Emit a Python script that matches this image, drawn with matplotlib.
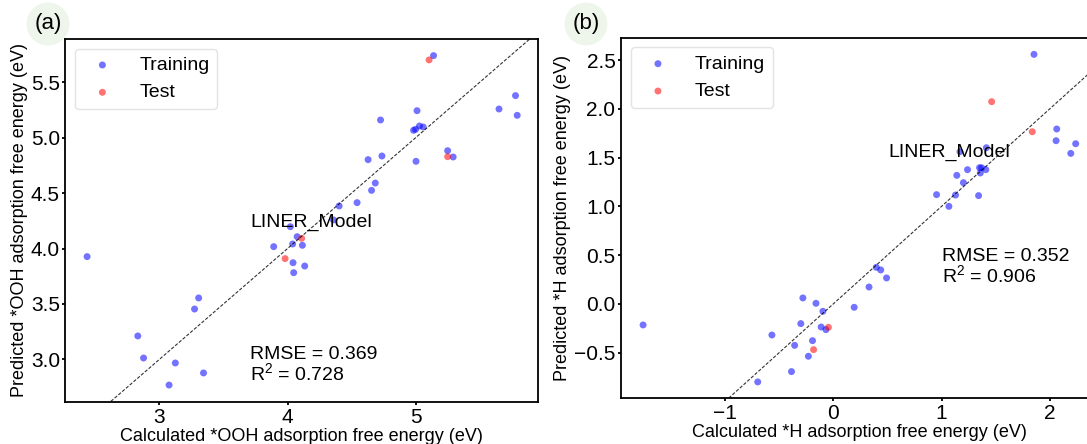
import matplotlib
matplotlib.use("Agg")
import matplotlib.pyplot as plt

plt.rcParams['font.family'] = ['Liberation Sans', 'DejaVu Sans']
plt.rcParams['mathtext.fontset'] = 'custom'
plt.rcParams['mathtext.rm'] = 'Liberation Sans'
plt.rcParams['mathtext.it'] = 'Liberation Sans:italic'

# (a) *OOH
ooh_train_x = [2.435, 2.831, 2.876, 3.124, 3.075, 3.344, 3.274, 3.306, 3.892, 4.022,
               4.040, 4.075, 4.116, 4.043, 4.048, 4.134, 4.403, 4.358, 4.543, 4.656,
               4.685, 4.629, 4.737, 4.726, 5.003, 4.984, 5.000, 5.030, 5.059, 5.011,
               5.140, 5.250, 5.293, 5.651, 5.780, 5.793]
ooh_train_y = [3.927, 3.211, 3.012, 2.967, 2.768, 2.877, 3.454, 3.554, 4.017, 4.197,
               4.041, 4.107, 4.029, 3.872, 3.782, 3.842, 4.384, 4.258, 4.414, 4.525,
               4.591, 4.802, 4.835, 5.160, 4.787, 5.067, 5.076, 5.106, 5.097, 5.244,
               5.741, 4.883, 4.826, 5.259, 5.380, 5.202]
ooh_test_x = [5.105, 5.250, 4.110, 3.981]
ooh_test_y = [5.702, 4.829, 4.092, 3.909]
ooh_rmse, ooh_r2 = 0.369, 0.728

# (b) *H
h_train_x = [-1.757, -0.567, -0.357, -0.386, -0.698, -0.281, -0.300, -0.160, -0.096, -0.112,
             -0.068, -0.192, -0.230, 0.193, 0.330, 0.397, 0.438, 0.492, 0.954, 1.068,
             1.129, 1.141, 1.202, 1.240, 1.342, 1.351, 1.370, 1.358, 1.409, 1.414,
             1.170, 1.854, 2.064, 2.058, 2.194, 2.239]
h_train_y = [-0.216, -0.319, -0.425, -0.694, -0.800, 0.061, -0.202, 0.006, -0.076, -0.237,
             -0.264, -0.377, -0.537, -0.035, 0.173, 0.375, 0.348, 0.266, 1.120, 1.000,
             1.116, 1.318, 1.243, 1.376, 1.110, 1.396, 1.396, 1.342, 1.376, 1.601,
             1.560, 2.558, 1.793, 1.673, 1.543, 1.642]
h_test_x = [1.463, 1.838, -0.045, -0.182]
h_test_y = [2.073, 1.765, -0.240, -0.469]
h_rmse, h_r2 = 0.352, 0.906


def parity_panel(ax, tx, ty, vx, vy, rmse, r2, xlim, ylim, xlabel, ylabel,
                 model_pos, stats_pos, xticks, yticks):
    ax.scatter(tx, ty, s=25, color='blue', alpha=0.55, edgecolors='none', label='Training')
    ax.scatter(vx, vy, s=25, color='red', alpha=0.55, edgecolors='none', label='Test')
    lo, hi = min(xlim[0], ylim[0]), max(xlim[1], ylim[1])
    ax.plot([lo, hi], [lo, hi], 'k--', lw=0.8, dashes=(3, 1.5), alpha=0.8)
    ax.set_xlim(*xlim)
    ax.set_ylim(*ylim)
    ax.set_xticks(xticks)
    ax.set_yticks(yticks)
    ax.set_xlabel(xlabel, fontsize=13, labelpad=1)
    ax.set_ylabel(ylabel, fontsize=13, labelpad=2)
    ax.tick_params(labelsize=15, length=2, width=1.3, pad=2)
    for sp in ax.spines.values():
        sp.set_linewidth(1.3)
    ax.text(*model_pos, 'LINER_Model', fontsize=14)
    ax.text(*stats_pos, f'RMSE = {rmse}\nR$^2$ = {r2}', fontsize=14, linespacing=0.95)
    leg = ax.legend(loc='upper left', fontsize=14, borderaxespad=0.5, handletextpad=0.9)
    leg.get_frame().set_edgecolor('#dddddd')


fig = plt.figure(figsize=(10.87, 4.44), dpi=100)
ax1 = fig.add_axes([0.0602, 0.0946, 0.4348, 0.8176])
ax2 = fig.add_axes([0.5713, 0.1029, 0.4379, 0.8122])

parity_panel(ax1, ooh_train_x, ooh_train_y, ooh_test_x, ooh_test_y, ooh_rmse, ooh_r2,
             (2.266, 5.956), (2.615, 5.891),
             'Calculated *OOH adsorption free energy (eV)',
             'Predicted *OOH adsorption free energy (eV)',
             (3.71, 4.20), (3.71, 2.81), [3, 4, 5], [3.0, 3.5, 4.0, 4.5, 5.0, 5.5])
parity_panel(ax2, h_train_x, h_train_y, h_test_x, h_test_y, h_rmse, h_r2,
             (-1.961, 2.436), (-0.968, 2.729),
             'Calculated *H adsorption free energy (eV)',
             'Predicted *H adsorption free energy (eV)',
             (0.505, 1.51), (1.004, 0.22), [-1, 0, 1, 2], [-0.5, 0.0, 0.5, 1.0, 1.5, 2.0, 2.5])

circle = dict(boxstyle='circle,pad=0.35', facecolor='#eef5ea', edgecolor='none')
fig.text(48 / 1087, 1 - 24 / 444, '(a)', fontsize=16, ha='center', va='center', bbox=circle)
fig.text(586 / 1087, 1 - 24 / 444, '(b)', fontsize=16, ha='center', va='center', bbox=circle)

fig.savefig('out.png', dpi=100)
